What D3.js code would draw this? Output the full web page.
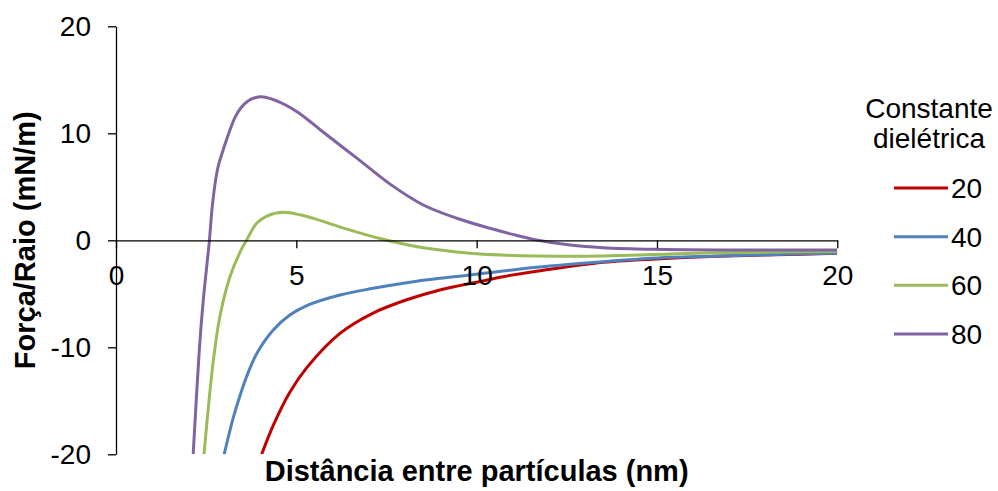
<!DOCTYPE html>
<html>
<head>
<meta charset="utf-8">
<script src="https://cdn.jsdelivr.net/npm/d3@7"></script>
<style>
  html, body { margin: 0; padding: 0; background: #fff; }
  svg { display: block; font-family: "Liberation Sans", Arial, Helvetica, sans-serif; }
</style>
</head>
<body>
<svg id="chart" width="998" height="491"></svg>
<script>
// Dielectric constants shown in the legend
const seriesNames = ["20", "40", "60", "80"];
const seriesColors = ["#C00000", "#4F81BD", "#9BBB59", "#8064A2"];

// Force/radius (mN/m) versus particle separation (nm), one pair of arrays per curve
const dist20  = [4.04, 4.36, 4.82, 5.29, 6.21, 7.13, 8.06, 8.98, 10.09, 10.74, 11.66, 13.51, 15.36, 16.7, 18.3, 20];
const force20 = [-20, -17.3, -14.2, -11.9, -8.7, -6.8, -5.56, -4.64, -3.85, -3.4, -2.9, -2.05, -1.68, -1.5, -1.35, -1.22];

const dist40  = [3.0, 3.25, 3.44, 3.62, 3.9, 4.36, 4.82, 5.29, 6.21, 7.13, 8.06, 8.98, 9.81, 11.66, 13.51, 15.36, 16.7, 18.3, 20];
const force40 = [-20, -16.6, -14.5, -12.75, -10.6, -8.38, -6.98, -6.1, -5.11, -4.49, -3.96, -3.55, -3.24, -2.52, -2.0, -1.59, -1.47, -1.32, -1.2];

const dist60  = [2.44, 2.70, 2.88, 3.16, 3.47, 3.62, 3.9, 4.18, 4.64, 5.1, 5.47, 6.40, 7.40, 8.52, 9.0, 9.81, 10.7, 11.66, 13.5, 15.36, 16.7, 18.3, 20];
const force60 = [-20, -11.2, -7.14, -3.4, -0.9, 0, 1.59, 2.27, 2.62, 2.38, 2.05, 1.05, 0.1, -0.7, -0.91, -1.21, -1.38, -1.47, -1.47, -1.28, -1.16, -1.1, -1.05];

const dist80  = [2.14, 2.31, 2.42, 2.59, 2.66, 2.76, 2.84, 2.97, 3.13, 3.30, 3.46, 3.66, 3.85, 4.04, 4.55, 5.05, 5.75, 6.67, 7.60, 8.52, 9.45, 10.37, 11.0, 11.66, 12.59, 13.5, 14.9, 16.7, 18.3, 20];
const force80 = [-20, -10.25, -5.6, 0, 2.83, 5.6, 7.0, 8.44, 10.03, 11.49, 12.37, 13.02, 13.32, 13.42, 12.9, 11.95, 10.1, 7.7, 5.25, 3.3, 2.06, 1.12, 0.55, 0.03, -0.44, -0.69, -0.84, -0.9, -0.9, -0.9];

const xTicks = [0, 5, 10, 15, 20];
const yTicks = [-20, -10, 0, 10, 20];

const xTitle = "Distância entre partículas (nm)";
const yTitle = "Força/Raio (mN/m)";
const legendTitle = ["Constante", "dielétrica"];

const series = [
  { name: seriesNames[0], color: seriesColors[0], xs: dist20, ys: force20 },
  { name: seriesNames[1], color: seriesColors[1], xs: dist40, ys: force40 },
  { name: seriesNames[2], color: seriesColors[2], xs: dist60, ys: force60 },
  { name: seriesNames[3], color: seriesColors[3], xs: dist80, ys: force80 }
];

const svg = d3.select("#chart");

const x = d3.scaleLinear().domain([0, 20]).range([116, 837.3]);
const y = d3.scaleLinear().domain([-20, 20]).range([454.3, 26.3]);

svg.append("defs").append("clipPath").attr("id", "plotClip")
  .append("rect")
  .attr("x", x(0)).attr("y", y(20))
  .attr("width", x(20) - x(0)).attr("height", y(-20) - y(20));

// Curves
const line = d3.line()
  .x(d => x(d[0]))
  .y(d => y(d[1]))
  .curve(d3.curveCatmullRom.alpha(0.5));

const curves = svg.append("g").attr("clip-path", "url(#plotClip)");
series.forEach(s => {
  curves.append("path")
    .datum(s.xs.map((v, i) => [v, s.ys[i]]))
    .attr("fill", "none")
    .attr("stroke", s.color)
    .attr("stroke-width", 3)
    .attr("stroke-linejoin", "round")
    .attr("d", line);
});

const plain = d => String(d);

// Vertical axis
const yAxis = svg.append("g")
  .attr("transform", `translate(${x(0)},0)`)
  .call(d3.axisLeft(y).tickValues(yTicks).tickFormat(plain).tickSize(8).tickSizeOuter(0).tickPadding(17));

// Horizontal axis drawn through zero
const xAxis = svg.append("g")
  .attr("transform", `translate(0,${y(0)})`)
  .call(d3.axisBottom(x).tickValues(xTicks).tickFormat(plain).tickSize(8).tickSizeOuter(0).tickPadding(17));

[xAxis, yAxis].forEach(g => {
  g.selectAll("path.domain").attr("stroke", "#000").attr("stroke-width", 1.3);
  g.selectAll(".tick line").attr("stroke", "#000").attr("stroke-width", 1.3);
  g.selectAll(".tick text")
    .attr("fill", "#000")
    .style("font-family", "'Liberation Sans', Arial, Helvetica, sans-serif")
    .style("font-size", "28px");
});

// Axis titles
svg.append("text")
  .attr("x", (x(0) + x(20)) / 2)
  .attr("y", 481)
  .attr("text-anchor", "middle")
  .style("font-size", "29px")
  .style("font-weight", "bold")
  .text(xTitle);

svg.append("text")
  .attr("transform", `translate(35,${y(0)}) rotate(-90)`)
  .attr("text-anchor", "middle")
  .style("font-size", "29px")
  .style("font-weight", "bold")
  .text(yTitle);

// Legend
const legend = svg.append("g");
legendTitle.forEach((t, i) => {
  legend.append("text")
    .attr("x", 929)
    .attr("y", 118 + i * 29.5)
    .attr("text-anchor", "middle")
    .style("font-size", "28px")
    .text(t);
});

const itemY = d3.scalePoint().domain(seriesNames).range([188, 334]);
series.forEach(s => {
  const cy = itemY(s.name);
  legend.append("line")
    .attr("x1", 894).attr("x2", 948)
    .attr("y1", cy).attr("y2", cy)
    .attr("stroke", s.color)
    .attr("stroke-width", 3);
  legend.append("text")
    .attr("x", 951)
    .attr("y", cy + 10)
    .style("font-size", "28px")
    .text(s.name);
});
</script>
</body>
</html>
